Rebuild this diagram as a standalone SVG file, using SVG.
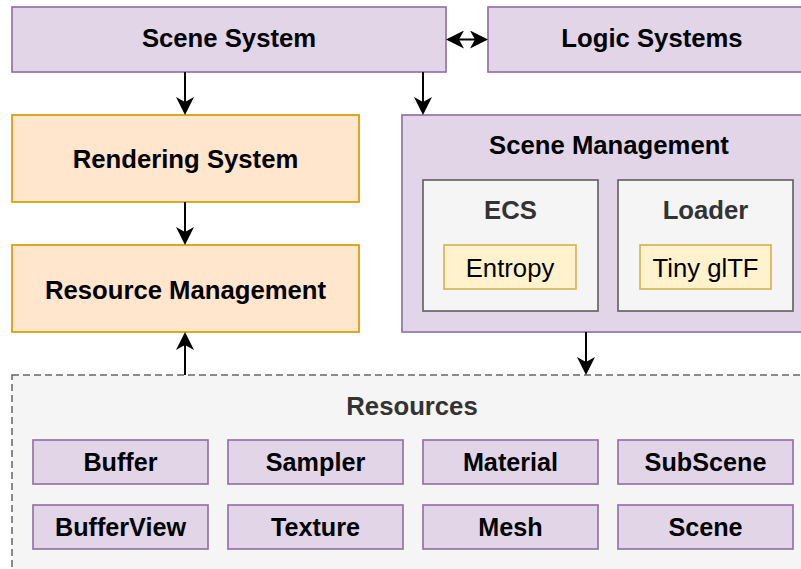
<svg xmlns="http://www.w3.org/2000/svg" width="801" height="569" viewBox="0 0 801 569">
<style>
text{font-family:"Liberation Sans",Arial,Helvetica,sans-serif;text-anchor:middle;fill:#000}
.b{font-weight:bold}
.big{font-size:25.7px}
.sm{font-size:25.2px}
.purple{fill:#e1d5e7;stroke:#9673a6;stroke-width:1.7}
.orange{fill:#ffe6cc;stroke:#d79b00;stroke-width:1.7}
.grey{fill:#f5f5f5;stroke:#666666;stroke-width:1.7}
.yellow{fill:#fff2cc;stroke:#d6b656;stroke-width:1.7}
.dk{fill:#333333}
.edge{fill:none;stroke:#000;stroke-width:2}
</style>
<defs>
<marker id="arr" viewBox="0 0 18 18" refX="14" refY="9" markerWidth="18" markerHeight="18" markerUnits="userSpaceOnUse" orient="auto-start-reverse">
<path d="M0,0 L18,9 L0,18 L5,9 Z" fill="#000"/>
</marker>
</defs>

<g id="resources">
<rect x="12" y="375" width="800" height="220" fill="#f5f5f5" stroke="#666666" stroke-width="1.5" stroke-dasharray="7 4"/>
<text class="b big dk" x="412" y="415">Resources</text>
</g>
<g id="buffer"><rect class="purple" x="33" y="440" width="175" height="44"/><text class="b sm" x="120.5" y="471">Buffer</text></g>
<g id="sampler"><rect class="purple" x="228" y="440" width="175" height="44"/><text class="b sm" x="315.5" y="471">Sampler</text></g>
<g id="material"><rect class="purple" x="423" y="440" width="175" height="44"/><text class="b sm" x="510.5" y="471">Material</text></g>
<g id="subscene"><rect class="purple" x="618" y="440" width="175" height="44"/><text class="b sm" x="705.5" y="471">SubScene</text></g>
<g id="bufferview"><rect class="purple" x="33" y="505" width="175" height="44"/><text class="b sm" x="120.5" y="536">BufferView</text></g>
<g id="texture"><rect class="purple" x="228" y="505" width="175" height="44"/><text class="b sm" x="315.5" y="536">Texture</text></g>
<g id="mesh"><rect class="purple" x="423" y="505" width="175" height="44"/><text class="b sm" x="510.5" y="536">Mesh</text></g>
<g id="scene"><rect class="purple" x="618" y="505" width="175" height="44"/><text class="b sm" x="705.5" y="536">Scene</text></g>

<g id="scene-system"><rect class="purple" x="12" y="7" width="434" height="65"/><text class="b big" x="229" y="47">Scene System</text></g>
<g id="logic-systems"><rect class="purple" x="488" y="7" width="328" height="65"/><text class="b big" x="652" y="47">Logic Systems</text></g>
<g id="rendering-system"><rect class="orange" x="12" y="115" width="347" height="87"/><text class="b big" x="185.5" y="168">Rendering System</text></g>
<g id="resource-management"><rect class="orange" x="12" y="245" width="347" height="87"/><text class="b big" x="185.5" y="299">Resource Management</text></g>
<g id="scene-management"><rect class="purple" x="402" y="115" width="414" height="217"/><text class="b big" x="609" y="154">Scene Management</text></g>
<g id="ecs"><rect class="grey" x="423" y="180" width="175" height="131"/><text class="b big dk" x="510.5" y="219">ECS</text></g>
<g id="loader"><rect class="grey" x="618" y="180" width="175" height="131"/><text class="b big dk" x="705.5" y="219">Loader</text></g>
<g id="entropy"><rect class="yellow" x="444" y="245" width="132" height="44"/><text class="big" x="510" y="276.5">Entropy</text></g>
<g id="tinygltf"><rect class="yellow" x="640" y="245" width="131" height="44"/><text class="big" x="705.5" y="276.5">Tiny glTF</text></g>

<g id="connectors">
<path class="edge" d="M185,72 V111" marker-end="url(#arr)"/>
<path class="edge" d="M423,72 V111" marker-end="url(#arr)"/>
<path class="edge" d="M185,202 V241" marker-end="url(#arr)"/>
<path class="edge" d="M586,332 V371" marker-end="url(#arr)"/>
<path class="edge" d="M185,375 V336" marker-end="url(#arr)"/>
<path class="edge" d="M450,39.5 H484" marker-start="url(#arr)" marker-end="url(#arr)"/>
</g>
</svg>
